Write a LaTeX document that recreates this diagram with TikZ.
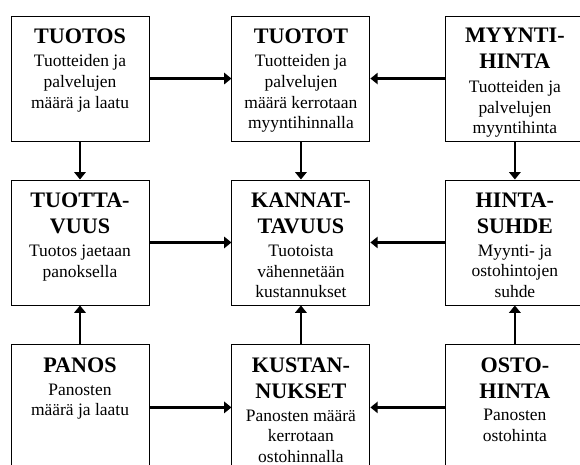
\documentclass[tikz,border=0pt]{standalone}
\usepackage{fontspec}
\setmainfont{Liberation Serif}
\usetikzlibrary{positioning,arrows.meta}

\tikzset{
  box/.style={draw, line width=0.7pt, minimum width=103.5pt, minimum height=93.75pt, inner sep=0pt},
  head/.style={align=center, inner sep=0pt, font={\fontsize{16.6pt}{19.5pt}\selectfont\bfseries}},
  body/.style={align=center, inner sep=0pt, font={\fontsize{13.1pt}{15.5pt}\selectfont}},
  flow/.style={line width=1.9pt, -{Triangle[length=5.5pt,width=8.5pt]}}
}

\begin{document}
\begin{tikzpicture}
\useasboundingbox (0,0) rectangle (435pt,-348pt);
\clip (0,0) rectangle (435pt,-348pt);
% boxes
\node[box] (tuotos) at (60pt, -58.9pt) {};
\node[box, right=61.5pt of tuotos] (tuotot) {};
\node[box, right=56.25pt of tuotot] (myyntihinta) {};
\node[box, below=28.5pt of tuotos] (tuottavuus) {};
\node[box, below=28.5pt of tuotot] (kannattavuus) {};
\node[box, below=28.5pt of myyntihinta] (hintasuhde) {};
\node[box, below=29.25pt of tuottavuus] (panos) {};
\node[box, below=29.25pt of kannattavuus] (kustannukset) {};
\node[box, below=29.25pt of hintasuhde] (ostohinta) {};
% texts
\node[head, below=9.5pt of tuotos.north] (tuotos-h) {TUOTOS};
\node[body, below=8.2pt of tuotos-h] (tuotos-t) {Tuotteiden ja\\palvelujen\\määrä ja laatu};
\node[head, below=9.5pt of tuotot.north] (tuotot-h) {TUOTOT};
\node[body, below=8.2pt of tuotot-h] (tuotot-t) {Tuotteiden ja\\palvelujen\\määrä kerrotaan\\myyntihinnalla};
\node[head, below=9.5pt of myyntihinta.north] (myyntihinta-h) {MYYNTI-\\HINTA};
\node[body, below=8.2pt of myyntihinta-h] (myyntihinta-t) {Tuotteiden ja\\palvelujen\\myyntihinta};
\node[head, below=9.5pt of tuottavuus.north] (tuottavuus-h) {TUOTTA-\\VUUS};
\node[body, below=8.2pt of tuottavuus-h] (tuottavuus-t) {Tuotos jaetaan\\panoksella};
\node[head, below=9.5pt of kannattavuus.north] (kannattavuus-h) {KANNAT-\\TAVUUS};
\node[body, below=8.2pt of kannattavuus-h] (kannattavuus-t) {Tuotoista\\vähennetään\\kustannukset};
\node[head, below=9.5pt of hintasuhde.north] (hintasuhde-h) {HINTA-\\SUHDE};
\node[body, below=8.2pt of hintasuhde-h] (hintasuhde-t) {Myynti- ja\\ostohintojen\\suhde};
\node[head, below=9.5pt of panos.north] (panos-h) {PANOS};
\node[body, below=8.2pt of panos-h] (panos-t) {Panosten\\määrä ja laatu};
\node[head, below=9.5pt of kustannukset.north] (kustannukset-h) {KUSTAN-\\NUKSET};
\node[body, below=8.2pt of kustannukset-h] (kustannukset-t) {Panosten määrä\\kerrotaan\\ostohinnalla};
\node[head, below=9.5pt of ostohinta.north] (ostohinta-h) {OSTO-\\HINTA};
\node[body, below=8.2pt of ostohinta-h] (ostohinta-t) {Panosten\\ostohinta};
% arrows
\draw[flow] (tuotos) -- (tuotot);
\draw[flow] (myyntihinta) -- (tuotot);
\draw[flow] (tuottavuus) -- (kannattavuus);
\draw[flow] (hintasuhde) -- (kannattavuus);
\draw[flow] (panos) -- (kustannukset);
\draw[flow] (ostohinta) -- (kustannukset);
\draw[flow] (tuotos) -- (tuottavuus);
\draw[flow] (tuotot) -- (kannattavuus);
\draw[flow] (myyntihinta) -- (hintasuhde);
\draw[flow] (panos) -- (tuottavuus);
\draw[flow] (kustannukset) -- (kannattavuus);
\draw[flow] (ostohinta) -- (hintasuhde);
\end{tikzpicture}
\end{document}
